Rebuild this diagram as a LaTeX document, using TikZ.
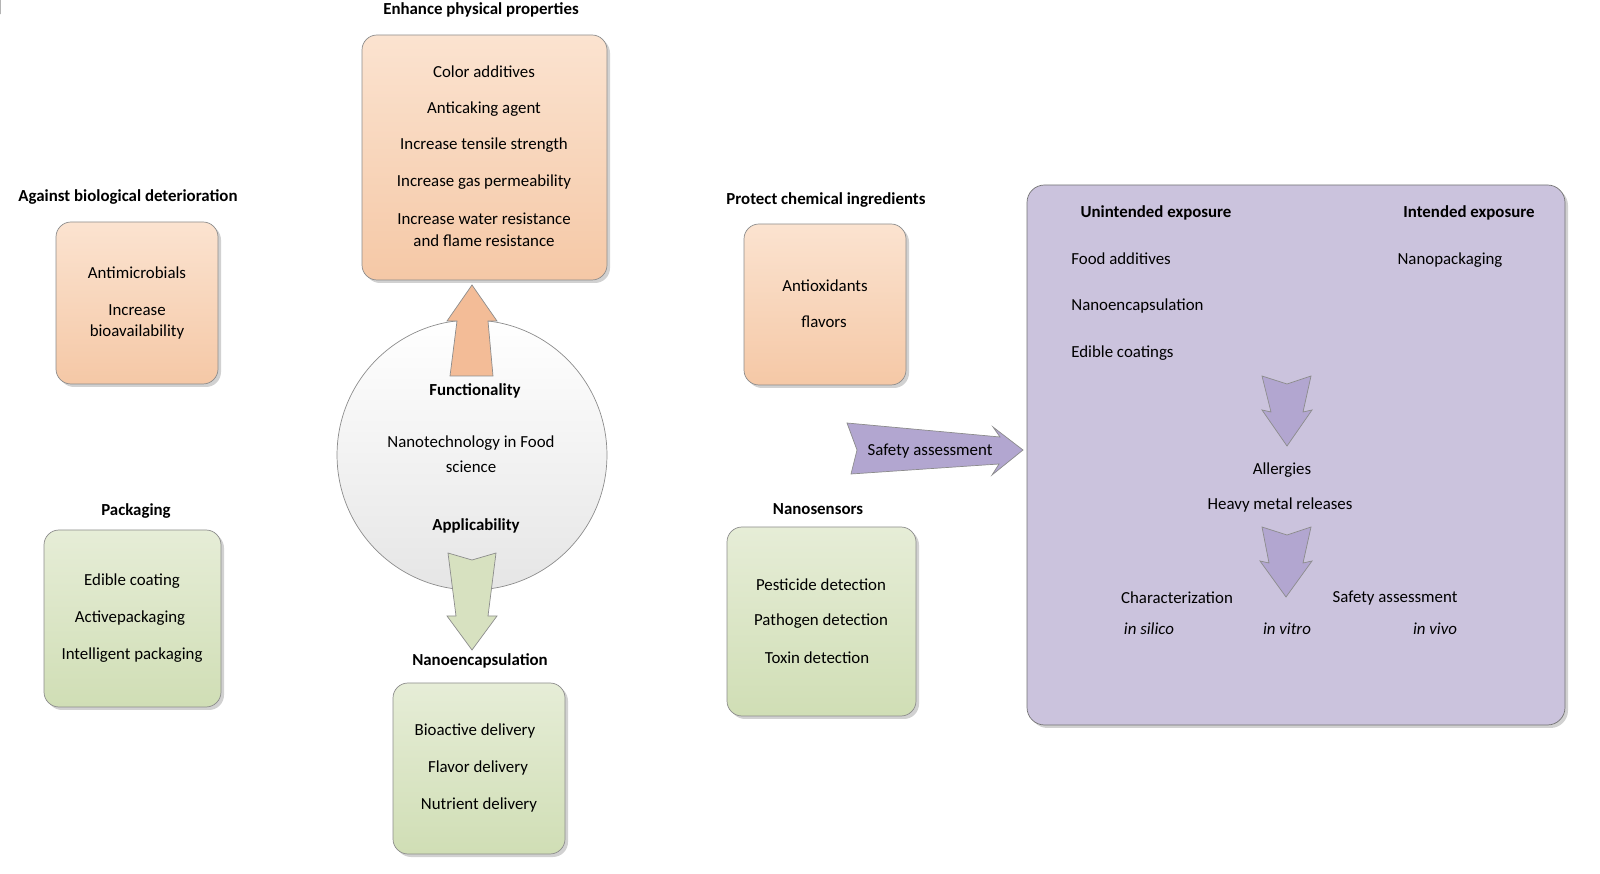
\documentclass[tikz,border=0pt]{standalone}
\usepackage{fontspec}
\setmainfont{Carlito}
\begin{document}
\begin{tikzpicture}[x=0.02cm,y=-0.02cm,
  every node/.style={font=\fontsize{9.6}{11.5}\selectfont, inner sep=0pt},
  ttl/.style={font=\fontsize{9.6}{11.5}\selectfont\bfseries},
  box/.style={rounded corners=0.3cm, draw=black!45, line width=0.4pt},
  obox/.style={box, top color=orange!6!white!90!red!3, bottom color=orange!30!white, shade},
  gbox/.style={box, top color=green!20!yellow!8!white, bottom color=green!30!yellow!15!gray!25!white, shade},
  lt/.style={anchor=west},
  it/.style={font=\fontsize{9.6}{11.5}\selectfont\itshape}]
\definecolor{ob1}{HTML}{FBE3D0}\definecolor{ob2}{HTML}{F5C8A6}
\definecolor{gb1}{HTML}{E6EDD7}\definecolor{gb2}{HTML}{D0DEB5}
\definecolor{pbox}{HTML}{CBC3DD}\definecolor{parr}{HTML}{B2A6D0}
\definecolor{oarr}{HTML}{F3BC97}\definecolor{garr}{HTML}{D7E1C0}
\useasboundingbox (0,0) rectangle (1600,874);
\tikzset{obox/.style={box, top color=ob1, bottom color=ob2}, gbox/.style={box, top color=gb1, bottom color=gb2}}
% shadows
\foreach \a/\b/\c/\d in {362/35/607/280,56/222/218/384,744/224/906/385,44/530/221/707,393/683/565/854,727/527/916/716}
  \fill[black!18, rounded corners=0.3cm] (\a+3,\b+3) rectangle (\c+3,\d+3);
% boxes
\node[obox, minimum width=0pt] (b1) at (0,0) {};
\draw[obox] (362,35) rectangle (607,280);
\draw[obox] (56,222) rectangle (218,384);
\draw[obox] (744,224) rectangle (906,385);
\draw[gbox] (44,530) rectangle (221,707);
\draw[gbox] (393,683) rectangle (565,854);
\draw[gbox] (727,527) rectangle (916,716);
\fill[black!18, rounded corners=0.35cm] (1030,188) rectangle (1568,728);
\draw[box, rounded corners=0.35cm, fill=pbox, draw=black!55] (1027,185) rectangle (1565,725);
% circle
\node[circle, draw=black!45, minimum size=5.4cm, top color=white, bottom color=black!10] (c) at (472,455) {};
% arrows
\draw[fill=oarr, draw=black!45] (472,285) -- (497,321) -- (488,321) -- (493,376) -- (450,376) -- (457,321) -- (447,321) -- cycle;
\draw[fill=garr, draw=black!45] (448,553) -- (472,560) -- (496,553) -- (488,616) -- (497,616) -- (472,650) -- (447,616) -- (456,616) -- cycle;
\draw[fill=parr, draw=black!45] (847,423) -- (1000,437) -- (993,427) -- (1023,450) -- (992,475) -- (999,464) -- (851,474) -- (857,450) -- cycle;
\draw[fill=parr, draw=black!45] (1262,376) -- (1287,384) -- (1311,376) -- (1303,412) -- (1312,410) -- (1287,446) -- (1262,410) -- (1271,412) -- cycle;
\draw[fill=parr, draw=black!45] (1262,527) -- (1287,535) -- (1311,527) -- (1303,563) -- (1312,561) -- (1286,597) -- (1260,561) -- (1269,563) -- cycle;
% titles
\node[ttl] (t1) at (481,10) {Enhance physical properties};
\node[ttl] (t2) at (128,197) {Against biological deterioration};
\node[ttl] (t3) at (826,200) {Protect chemical ingredients};
\node[ttl] (t4) at (136,511) {Packaging};
\node[ttl] (t5) at (480,661) {Nanoencapsulation};
\node[ttl] (t6) at (818,509) {Nanosensors};
% box texts
\node (a1) at (484,72) {Color additives};
\node (a2) at (484,109) {Anticaking agent};
\node (a3) at (484,145) {Increase tensile strength};
\node (a4) at (484,182) {Increase gas permeability};
\node (a5) at (484,219) {Increase water resistance};
\node (a6) at (484,241) {and flame resistance};
\node (l1) at (137,273) {Antimicrobials};
\node (l2) at (137,310) {Increase};
\node (l3) at (137,332) {bioavailability};
\node (p1) at (825,286) {Antioxidants};
\node (p2) at (824,322) {flavors};
\node (g1) at (132,581) {Edible coating};
\node (g2) at (130,618) {Activepackaging};
\node (g3) at (132,655) {Intelligent packaging};
\node (n1) at (475,731) {Bioactive delivery};
\node (n2) at (478,768) {Flavor delivery};
\node (n3) at (479,805) {Nutrient delivery};
\node (s1) at (821,585) {Pesticide detection};
\node (s2) at (821,621) {Pathogen detection};
\node (s3) at (817,658) {Toxin detection};
% circle texts
\node[ttl] (f) at (475,391) {Functionality};
\node (m1) at (471,443) {Nanotechnology in Food};
\node (m2) at (471,467) {science};
\node[ttl] (ap) at (476,526) {Applicability};
\node (sa) at (930,451) {Safety assessment};
% purple
\node[ttl] (u) at (1156,213) {Unintended exposure};
\node[ttl] (ie) at (1469,213) {Intended exposure};
\node[lt] (q1) at (1071,259) {Food additives};
\node[lt] (q2) at (1071,306) {Nanoencapsulation};
\node[lt] (q3) at (1071,353) {Edible coatings};
\node (q4) at (1450,260) {Nanopackaging};
\node (q5) at (1282,470) {Allergies};
\node (q6) at (1280,505) {Heavy metal releases};
\node (q7) at (1177,598) {Characterization};
\node (q8) at (1395,598) {Safety assessment};
\node[it] (q9) at (1149,629) {in silico};
\node[it] (q10) at (1287,629) {in vitro};
\node[it] (q11) at (1435,629) {in vivo};
\end{tikzpicture}
\end{document}
